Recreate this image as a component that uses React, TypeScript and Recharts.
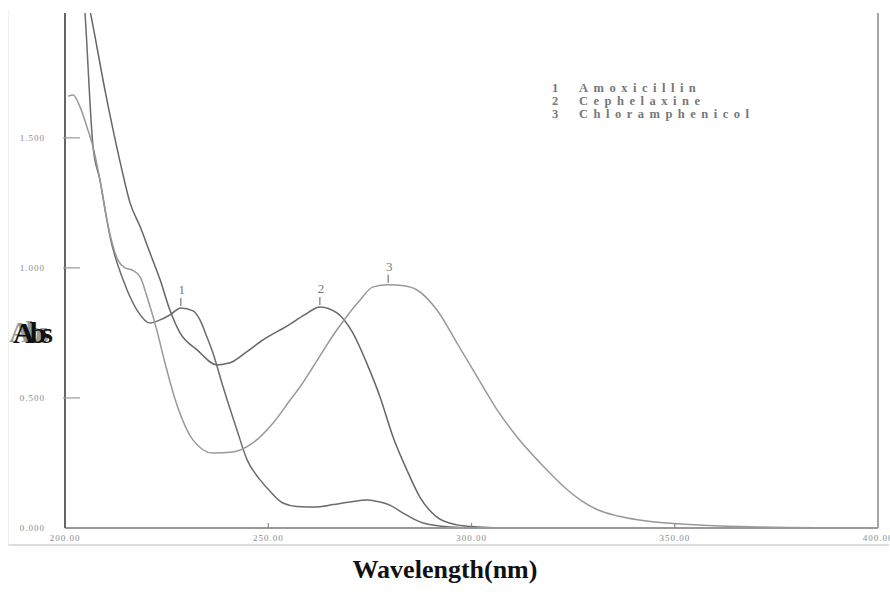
import React from 'react';
import { LineChart, Line, XAxis, YAxis, ReferenceLine, ReferenceDot } from 'recharts';

// spectra: [wavelength nm, absorbance]
const amoxicillin: [number, number][] = [
  [204.7, 2.03], [204.9, 1.985], [206.9, 1.465], [208.6, 1.338], [210.3, 1.185], [211.1, 1.119],
  [214.3, 0.954], [217.7, 0.838], [220.9, 0.788], [223.4, 0.8], [225.8, 0.819], [228.5, 0.846],
  [231.5, 0.835], [233.2, 0.8], [234.9, 0.735], [236.4, 0.673], [238.9, 0.542], [242.3, 0.377],
  [244.8, 0.262], [248.0, 0.185], [250.5, 0.14], [253.6, 0.096], [257, 0.083], [262, 0.081],
  [266, 0.09], [270.1, 0.1], [274.3, 0.108], [277.5, 0.1], [279.9, 0.088], [283.1, 0.058],
  [288.1, 0.019], [294.7, 0.004], [302, 0], [400, 0],
];

const cephelaxine: [number, number][] = [
  [205.6, 2.03], [206.2, 1.985], [210, 1.67], [214, 1.377], [216, 1.25], [218.5, 1.158],
  [220.9, 1.058], [223.4, 0.954], [225.8, 0.838], [228.3, 0.75], [232.5, 0.685], [237.4, 0.627],
  [240.6, 0.635], [244.5, 0.675], [248.7, 0.723], [255, 0.78], [259, 0.82], [262.7, 0.85],
  [266.9, 0.827], [270.8, 0.75], [274.2, 0.635], [277.5, 0.504], [280.7, 0.35], [284.1, 0.223],
  [287.3, 0.119], [291.5, 0.042], [296.4, 0.012], [301.4, 0.004], [310, 0], [400, 0],
];

const chloramphenicol: [number, number][] = [
  [200.8, 1.66], [202, 1.665], [203.7, 1.619], [205.4, 1.542], [206.9, 1.465], [208.6, 1.338],
  [210.3, 1.185], [211.1, 1.127], [213, 1.031], [214.8, 1.0], [216.5, 0.992], [218.5, 0.965],
  [220.2, 0.888], [222.6, 0.76], [224.5, 0.64], [227.6, 0.47], [231.5, 0.338], [236.4, 0.288],
  [241.3, 0.292], [246.2, 0.327], [251.2, 0.404], [255.4, 0.492], [257.8, 0.542], [261, 0.619],
  [266.9, 0.762], [272.6, 0.877], [275.8, 0.927], [279.5, 0.935], [283, 0.932], [286.6, 0.915],
  [291.5, 0.838], [296.4, 0.712], [301.4, 0.581], [306.3, 0.454], [311.2, 0.35], [316.9, 0.25],
  [320, 0.2], [323.5, 0.148], [327, 0.105], [331, 0.07], [336, 0.046], [344, 0.025],
  [356, 0.012], [368.5, 0.005], [385, 0.001], [400, 0],
];

const compounds = ['Amoxicillin', 'Cephelaxine', 'Chloramphenicol'];
const peaks = [
  { label: '1', wl: 228.5, abs: 0.846 },
  { label: '2', wl: 262.7, abs: 0.85 },
  { label: '3', wl: 279.5, abs: 0.935 },
];
const wavelengthTicks = [200, 250, 300, 350, 400];
const absTicks = [0, 0.5, 1, 1.5];

const toRows = (pts: [number, number][]) => pts.map(([wl, abs]) => ({ wl, abs }));

const series = [
  { name: compounds[0], data: toRows(amoxicillin), color: '#6c6c6c' },
  { name: compounds[1], data: toRows(cephelaxine), color: '#666666' },
  { name: compounds[2], data: toRows(chloramphenicol), color: '#999999' },
];

const serif = '"Liberation Serif", "Times New Roman", serif';

const YTick = (props: any) => {
  const { x, y, payload } = props;
  return (
    <g>
      {payload.value > 0 && <line x1={x - 2} x2={x + 15} y1={y} y2={y} stroke="#999" strokeWidth={1.2} />}
      <text x={x - 20} y={y + 3} textAnchor="end" fontSize={9} fill="#8a8a8a" fontFamily={serif} letterSpacing={1}>
        {payload.value.toFixed(3)}
      </text>
    </g>
  );
};

const XTick = (props: any) => {
  const { x, y, payload } = props;
  const v = payload.value;
  return (
    <g>
      {v > 200 && v < 400 && <line x1={x} x2={x} y1={y - 5} y2={y} stroke="#888" strokeWidth={1.2} />}
      <text x={x} y={y + 13} textAnchor="middle" fontSize={9} fill="#8a8a8a" fontFamily={serif} letterSpacing={1}>
        {v.toFixed(2)}
      </text>
    </g>
  );
};

const PeakMark = (props: any) => {
  const { cx, cy, label } = props;
  return (
    <g>
      <line x1={cx} x2={cx} y1={cy - 2} y2={cy - 10} stroke="#777" strokeWidth={1.2} />
      <text x={cx + 1} y={cy - 14} textAnchor="middle" fontSize={13} fill="#777" fontFamily={serif}>
        {label}
      </text>
    </g>
  );
};

export default function App() {
  return (
    <div style={{ position: 'absolute', left: 0, top: 0, width: 890, height: 594, background: '#fff' }}>
      <div
        style={{
          position: 'absolute', left: 8, top: 10, width: 880, height: 534,
          borderBottom: '2px solid #ddd', borderLeft: '1px solid #f0f0f0',
        }}
      />
      <LineChart width={890} height={594} margin={{ top: 13, right: 12, left: 0, bottom: 0 }}>
        <XAxis
          type="number"
          dataKey="wl"
          domain={[200, 400]}
          ticks={wavelengthTicks}
          allowDataOverflow
          stroke="#999"
          strokeWidth={2}
          tickLine={false}
          tickSize={0}
          tickMargin={0}
          height={66}
          tick={<XTick />}
        />
        <YAxis
          type="number"
          domain={[0, 1.98]}
          ticks={absTicks}
          allowDataOverflow
          stroke="#666"
          strokeWidth={2}
          tickLine={false}
          tickSize={0}
          tickMargin={0}
          width={65}
          tick={<YTick />}
        />
        <ReferenceLine x={400} stroke="#888" strokeWidth={1.5} />
        {series.map((s) => (
          <Line
            key={s.name}
            data={s.data}
            dataKey="abs"
            name={s.name}
            type="monotone"
            stroke={s.color}
            strokeWidth={1.5}
            dot={false}
            isAnimationActive={false}
          />
        ))}
        {peaks.map((p) => (
          <ReferenceDot
            key={p.label}
            x={p.wl}
            y={p.abs}
            r={0}
            shape={(props: any) => <PeakMark {...props} label={p.label} />}
          />
        ))}
      </LineChart>
      <div
        style={{
          position: 'absolute', left: 552, top: 82, fontFamily: serif, fontSize: 12.5,
          fontWeight: 'bold', color: '#777', lineHeight: '13px',
        }}
      >
        {compounds.map((name, i) => (
          <div key={name} style={{ display: 'flex' }}>
            <span style={{ width: 27 }}>{i + 1}</span>
            <span style={{ letterSpacing: 5.5 }}>{name}</span>
          </div>
        ))}
      </div>
      <div
        style={{
          position: 'absolute', left: 9, top: 317, fontFamily: serif, fontWeight: 'bold',
          fontSize: 30, lineHeight: '30px', letterSpacing: -5, color: '#999',
        }}
      >
        Abs
      </div>
      <div
        style={{
          position: 'absolute', left: 13, top: 318, fontFamily: serif, fontWeight: 'bold',
          fontSize: 30, lineHeight: '30px', letterSpacing: -5, color: '#111',
        }}
      >
        Abs
      </div>
      <div
        style={{
          position: 'absolute', left: 345, top: 557, width: 200, textAlign: 'center',
          fontFamily: serif, fontWeight: 'bold', fontSize: 26, lineHeight: '26px', color: '#111',
        }}
      >
        Wavelength(nm)
      </div>
    </div>
  );
}
